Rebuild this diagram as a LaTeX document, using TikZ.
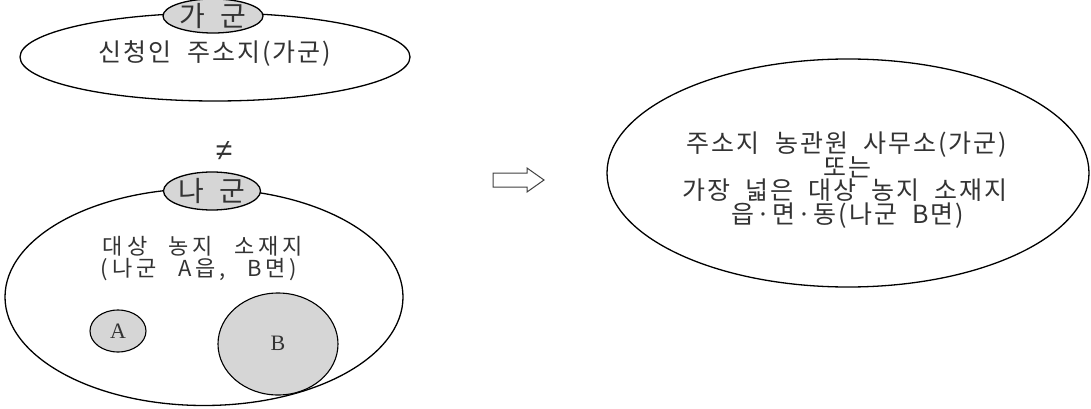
\documentclass[tikz,border=0pt]{standalone}
\usepackage{fontspec}
\setmainfont{Liberation Serif}
\newfontfamily\kr[LetterSpace=8, WordSpace=2.0]{Noto Sans CJK KR}
\newfontfamily\krw[LetterSpace=18, WordSpace=2.4]{Noto Sans CJK KR}
\newfontfamily\krlab[WordSpace=2.5]{Noto Sans CJK KR}
\newfontfamily\symf{Liberation Sans}
\usetikzlibrary{shapes.geometric}
\definecolor{lgray}{HTML}{D6D6D6}
\definecolor{txt}{HTML}{333333}
\tikzset{
  region/.style={ellipse, draw=black, line width=1.3pt, fill=white, inner sep=0pt},
  tag/.style={ellipse, draw=black, line width=1.3pt, fill=lgray, inner sep=0pt},
  lbl/.style={text=txt, inner sep=0pt, align=center, text height=19pt, text depth=1pt,
    font=\kr\fontsize{25}{24}\selectfont},
  lblw/.style={text=txt, inner sep=0pt, align=center, text height=17pt, text depth=1pt,
    font=\krw\fontsize{22}{22}\selectfont},
  taglbl/.style={text=txt, inner sep=0pt, text height=22pt, text depth=1.5pt,
    font=\krlab\fontsize{28}{28}\selectfont},
  letter/.style={inner sep=0pt, text=txt, font=\fontsize{22}{22}\selectfont},
}
\begin{document}
\begin{tikzpicture}[x=1pt,y=-1pt]
\useasboundingbox (0,0) rectangle (1091,409);
% top-left region
\node[region, minimum width=390pt, minimum height=88pt] (ga) at (215,57) {};
\node[tag, minimum width=100pt, minimum height=34pt] (gatag) at (213,16) {};
\node[taglbl] (gatagt) at (213,16) {가 군};
\node[lbl] (gatext) at (215,53) {신청인 주소지(가군)};
% not equal
\node[inner sep=0pt, text=txt, font=\symf\fontsize{30}{30}\selectfont] (neq) at (224,151) {≠};
% bottom-left region
\node[region, minimum width=398pt, minimum height=217pt] (na) at (204,297) {};
\node[tag, minimum width=97pt, minimum height=38pt] (natag) at (212,191) {};
\node[taglbl] (natagt) at (212,191) {나 군};
\node[lblw] (natext1) at (203,246) {대상 농지 소재지};
\node[lblw] (natext2) at (199,268) {(나군 A읍, B면)};
\node[tag, minimum width=56pt, minimum height=42pt, line width=1.1pt] (A) at (118,331) {};
\node[letter] (At) at (118,331) {A};
\node[tag, minimum width=120pt, minimum height=102pt, line width=1.1pt] (B) at (278,344) {};
\node[letter] (Bt) at (278,343) {B};
% arrow
\draw[line width=1pt, draw=black!75, fill=white] (493,173) -- (527,173) -- (527,168) -- (544,180) -- (527,192) -- (527,187) -- (493,187) -- cycle;
% right region
\node[region, minimum width=482pt, minimum height=228pt] (res) at (848,173) {};
\node[lbl] (r1) at (847,143) {주소지 농관원 사무소(가군)};
\node[lbl] (r2) at (847,167) {또는};
\node[lbl] (r3) at (845,190) {가장 넓은 대상 농지 소재지};
\node[lbl] (r4) at (848,214) {읍·면·동(나군 B면)};
\end{tikzpicture}
\end{document}
